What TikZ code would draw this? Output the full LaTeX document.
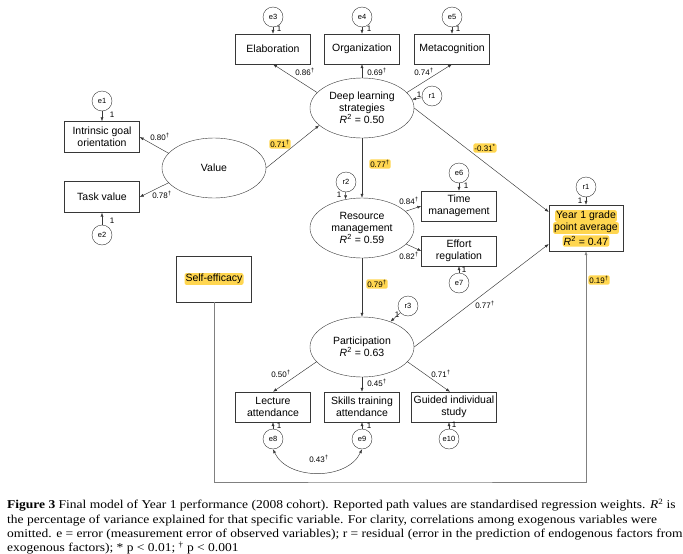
\documentclass[tikz,border=0pt]{standalone}
\usepackage{fontspec}
\setmainfont{Liberation Serif}
\setsansfont{Liberation Sans}
\newfontfamily\capfont[FakeStretch=1.125]{Liberation Serif}
\usetikzlibrary{shapes.geometric,arrows.meta}
\definecolor{hlyellow}{RGB}{255,214,80}
\definecolor{linegray}{RGB}{55,55,55}
\newcommand{\Rsq}[1]{\textit{R}\textsuperscript{2} = #1}
\newcommand{\dg}{\textsuperscript{\textdagger}}
\begin{document}
\begin{tikzpicture}[x=1pt,y=-1pt,
  every node/.style={font=\sffamily\fontsize{10.5}{12}\selectfont, inner sep=0pt},
  box/.style={draw=linegray, minimum width=75pt, minimum height=30pt, align=center},
  latent/.style={draw=linegray, ellipse, minimum width=104pt, minimum height=60pt, align=center},
  err/.style={draw=linegray, circle, minimum size=20pt, font=\sffamily\fontsize{7.5}{9}\selectfont},
  wt/.style={font=\sffamily\fontsize{8}{9}\selectfont},
  hlwt/.style={wt, fill=hlyellow, rounded corners=1.5pt, inner sep=1pt},
  hltext/.style={fill=hlyellow, rounded corners=2pt, inner sep=1pt},
  arr/.style={draw=linegray, line width=0.45pt, -{Latex[length=4pt,width=3pt]}},
]
\useasboundingbox (0,0) rectangle (683,554);
\node[err] (e3) at (273,17) {e3};
\node[err] (e4) at (362,17) {e4};
\node[err] (e5) at (452,17) {e5};
\node[box] (elab) at (273,49) {Elaboration};
\node[box] (org) at (362,49) {Organization};
\node[box] (meta) at (452,49) {Metacognition};
\node[latent] (deep) at (362,108) {Deep learning\\strategies\\\Rsq{0.50}};
\node[err] (r1) at (432,96) {r1};
\node[err] (e1) at (102,101) {e1};
\node[box, minimum height=31pt] (intr) at (102,137) {Intrinsic goal\\orientation};
\node[box, minimum height=31pt] (task) at (102,197) {Task value};
\node[err] (e2) at (102,235) {e2};
\node[latent] (value) at (214,168) {Value};
\node[latent] (res) at (362,228) {Resource\\management\\\Rsq{0.59}};
\node[err] (r2) at (346,182) {r2};
\node[err] (e6) at (459,173) {e6};
\node[box] (time) at (459,206) {Time\\management};
\node[box] (effort) at (459,251) {Effort\\regulation};
\node[err] (e7) at (459,283) {e7};
\node[draw=linegray, minimum width=74pt, minimum height=46pt] (gpa) at (586,228) {};
\node[hltext] (gpa1) at (586,216) {Year 1 grade};
\node[hltext] (gpa2) at (586,228) {point average};
\node[hltext] (gpa3) at (586,241) {\Rsq{0.47}};
\node[err] (r4) at (586,187) {r1};
\node[box, minimum height=46pt] (self) at (214,279) {};
\node[hltext] (selftxt) at (214,279) {Self-efficacy};
\node[latent] (part) at (362,347) {Participation\\\Rsq{0.63}};
\node[err] (r3) at (408,306) {r3};
\node[box] (lect) at (273,407) {Lecture\\attendance};
\node[box] (skill) at (362,407) {Skills training\\attendance};
\node[box, minimum width=85pt] (guide) at (454,407) {Guided individual\\study};
\node[err] (e8) at (273,439) {e8};
\node[err] (e9) at (362,439) {e9};
\node[err] (e10) at (449,439) {e10};
\coordinate (fb) at (400,482);
% path weights
\node[wt] (w1) at (305,72) {0.86\dg};
\node[wt] (w2) at (377,72) {0.69\dg};
\node[wt] (w3) at (424,72) {0.74\dg};
\node[wt] (w4) at (160,137) {0.80\dg};
\node[wt] (w5) at (162,195) {0.78\dg};
\node[hlwt] (w6) at (280,144) {0.71\dg};
\node[hlwt] (w7) at (485,148) {-0.31\textsuperscript{*}};
\node[hlwt] (w8) at (380,164) {0.77\dg};
\node[wt] (w9) at (409,201) {0.84\dg};
\node[wt] (w10) at (409,256) {0.82\dg};
\node[hlwt] (w11) at (377,284) {0.79\dg};
\node[wt] (w12) at (485,305) {0.77\dg};
\node[hlwt] (w13) at (599,280) {0.19\dg};
\node[wt] (w14) at (281,374) {0.50\dg};
\node[wt] (w15) at (377,383) {0.45\dg};
\node[wt] (w16) at (441,374) {0.71\dg};
\node[wt] (w17) at (319,459) {0.43\dg};
% fixed loadings
\node[wt] (o1) at (279,29) {1};
\node[wt] (o2) at (369,29) {1};
\node[wt] (o3) at (458,29) {1};
\node[wt] (o4) at (419,95) {1};
\node[wt] (o5) at (112,115) {1};
\node[wt] (o6) at (112,221) {1};
\node[wt] (o7) at (339,195) {1};
\node[wt] (o8) at (466,186) {1};
\node[wt] (o9) at (464,270) {1};
\node[wt] (o10) at (397,315) {1};
\node[wt] (o11) at (580,201) {1};
\node[wt] (o12) at (279,426) {1};
\node[wt] (o13) at (369,426) {1};
\node[wt] (o14) at (454,425) {1};
\draw[arr] (e3) -- (elab);
\draw[arr] (e4) -- (org);
\draw[arr] (e5) -- (meta);
\draw[arr] (deep.161) -- (elab.south);
\draw[arr] (deep) -- (org);
\draw[arr] (deep.19) -- (meta.south);
\draw[arr] (r1) -- (deep);
\draw[arr] (e1) -- (intr);
\draw[arr] (e2) -- (task);
\draw[arr] (value.162) -- (intr.east);
\draw[arr] (value.198) -- (task.east);
\draw[arr] (value.east) -- (deep.202);
\draw[arr] (deep) -- (res);
\draw[arr] (deep.east) -- ([yshift=16pt]gpa.west);
\draw[arr] (r2) -- (res.120);
\draw[arr] (e6) -- (time);
\draw[arr] (e7) -- (effort);
\draw[arr] (res.21) -- (time.west);
\draw[arr] (res.-20) -- (effort.west);
\draw[arr] (res) -- (part);
\draw[arr] (r3) -- (part);
\draw[arr] (r4) -- (gpa);
\draw[arr] (part.east) -- ([yshift=-16pt]gpa.west);
\draw[arr] (part.198) -- (lect.north);
\draw[arr] (part) -- (skill);
\draw[arr] (part.-18) -- ([xshift=-4pt]guide.north);
\draw[arr] (e8) -- (lect);
\draw[arr] (e9) -- (skill);
\draw[arr] (e10) -- (e10 |- guide.south);
\draw[arr, {Latex[length=4pt,width=3pt]}-{Latex[length=4pt,width=3pt]}] (e8.south) to[out=-65,in=-115] (e9.south);
\draw[arr, draw=gray] (self) |- (fb) -| (gpa);
% caption
\node[anchor=north west, align=left, font=\capfont\fontsize{12}{14.2}\selectfont] (cap) at (7,499)
  {\textbf{Figure 3} Final model of Year 1 performance (2008 cohort). Reported path values are standardised regression weights. \textit{R}\textsuperscript{2} is\\
   the percentage of variance explained for that specific variable. For clarity, correlations among exogenous variables were\\
   omitted. e = error (measurement error of observed variables); r = residual (error in the prediction of endogenous factors from\\
   exogenous factors); * p < 0.01; \textsuperscript{\textdagger} p < 0.001};
\end{tikzpicture}
\end{document}
